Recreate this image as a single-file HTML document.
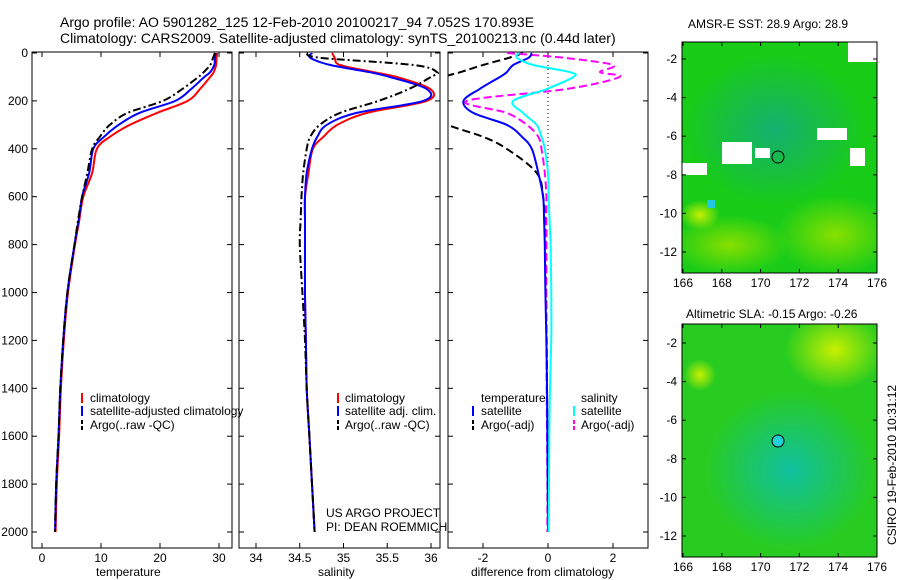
<!DOCTYPE html>
<html><head><meta charset="utf-8">
<style>
body{margin:0;background:#fff;}
svg{display:block;font-family:"Liberation Sans",sans-serif;}
text{font-size:12px;fill:#000;}
</style></head>
<body>
<svg id="fig" width="900" height="580" viewBox="0 0 900 580" xmlns="http://www.w3.org/2000/svg">
<defs>
<clipPath id="c1"><rect x="32" y="52" width="200" height="496"/></clipPath>
<clipPath id="c2"><rect x="239" y="52" width="201" height="496"/></clipPath>
<clipPath id="c3"><rect x="448" y="52" width="200" height="496"/></clipPath>
<clipPath id="m1"><rect x="682" y="42" width="195" height="231"/></clipPath>
<clipPath id="m2"><rect x="682" y="324" width="195" height="233"/></clipPath>
<radialGradient id="gTeal"><stop offset="0" stop-color="#14b070"/><stop offset="1" stop-color="#14b070" stop-opacity="0"/></radialGradient>
<radialGradient id="gYel"><stop offset="0" stop-color="#c8f000"/><stop offset="1" stop-color="#c8f000" stop-opacity="0"/></radialGradient>
<radialGradient id="gLime"><stop offset="0" stop-color="#88e000"/><stop offset="1" stop-color="#88e000" stop-opacity="0"/></radialGradient>
<radialGradient id="gCy"><stop offset="0" stop-color="#10c0a0"/><stop offset="1" stop-color="#10c0a0" stop-opacity="0"/></radialGradient>
</defs>
<text x="60" y="27" style="font-size:14px">Argo profile: AO 5901282_125 12-Feb-2010 20100217_94 7.052S 170.893E</text>
<text x="60" y="43" style="font-size:14px">Climatology: CARS2009. Satellite-adjusted climatology: synTS_20100213.nc (0.44d later)</text>
<g id="axes"></g>
<g id="maps">
 <g clip-path="url(#m1)">
  <rect x="682" y="42" width="195" height="231" fill="#18cc18"/>
  <ellipse cx="775" cy="130" rx="90" ry="75" fill="url(#gTeal)"/>
  <ellipse cx="730" cy="245" rx="60" ry="30" fill="url(#gLime)"/>
  <ellipse cx="835" cy="235" rx="60" ry="40" fill="url(#gLime)"/>
  <ellipse cx="700" cy="215" rx="20" ry="15" fill="url(#gYel)"/>
  <rect x="848" y="42" width="29" height="20" fill="#fff"/>
  <rect x="722" y="142" width="30" height="22" fill="#fff"/>
  <rect x="682" y="163" width="25" height="12" fill="#fff"/>
  <rect x="817" y="128" width="30" height="12" fill="#fff"/>
  <rect x="850" y="148" width="15" height="18" fill="#fff"/>
  <rect x="755" y="148" width="15" height="10" fill="#fff"/>
  <rect x="707" y="200" width="8" height="8" fill="#20c8e0"/>
 </g>
 <g clip-path="url(#m2)">
  <rect x="682" y="324" width="195" height="233" fill="#28cc20"/>
  <ellipse cx="790" cy="470" rx="85" ry="80" fill="url(#gCy)"/>
  <ellipse cx="835" cy="350" rx="50" ry="40" fill="url(#gYel)"/>
  <ellipse cx="700" cy="375" rx="16" ry="16" fill="url(#gYel)"/>
 </g>
 <rect x="682" y="42" width="195" height="231" fill="none" stroke="#000"/>
 <rect x="682" y="324" width="195" height="233" fill="none" stroke="#000"/>
 <circle cx="778" cy="157" r="6" fill="none" stroke="#000"/>
 <circle cx="778" cy="441" r="6" fill="#20d0d8" stroke="#000"/>
 <text x="688" y="28">AMSR-E SST: 28.9 Argo: 28.9</text>
 <text x="686" y="318">Altimetric SLA: -0.15 Argo: -0.26</text>
 <text transform="translate(896,545) rotate(-90)">CSIRO 19-Feb-2010 10:31:12</text>
</g>
<g id="mapticks"></g>
<g id="series"></g>
<g id="legends" font-size="12">
 <g>
  <line x1="82" y1="393" x2="82" y2="403" stroke="red" stroke-width="2"/><text x="90" y="402">climatology</text>
  <line x1="82" y1="406" x2="82" y2="416" stroke="blue" stroke-width="2"/><text x="90" y="415">satellite-adjusted climatology</text>
  <line x1="82" y1="420" x2="82" y2="430" stroke="#000" stroke-width="2" stroke-dasharray="4,2"/><text x="90" y="429">Argo(..raw -QC)</text>
 </g>
 <g>
  <line x1="338" y1="393" x2="338" y2="403" stroke="red" stroke-width="2"/><text x="345" y="402">climatology</text>
  <line x1="338" y1="406" x2="338" y2="416" stroke="blue" stroke-width="2"/><text x="345" y="415">satellite adj. clim.</text>
  <line x1="338" y1="420" x2="338" y2="430" stroke="#000" stroke-width="2" stroke-dasharray="4,2"/><text x="345" y="429">Argo(..raw -QC)</text>
 </g>
 <g>
  <text x="481" y="402">temperature</text><text x="581" y="402">salinity</text>
  <line x1="473" y1="406" x2="473" y2="416" stroke="blue" stroke-width="2"/><text x="481" y="415">satellite</text>
  <line x1="473" y1="420" x2="473" y2="430" stroke="#000" stroke-width="2" stroke-dasharray="4,2"/><text x="481" y="429">Argo(-adj)</text>
  <line x1="574" y1="406" x2="574" y2="416" stroke="cyan" stroke-width="2"/><text x="581" y="415">satellite</text>
  <line x1="574" y1="420" x2="574" y2="430" stroke="magenta" stroke-width="2" stroke-dasharray="4,2"/><text x="581" y="429">Argo(-adj)</text>
 </g>
 <text x="326" y="517">US ARGO PROJECT</text>
 <text x="326" y="531">PI: DEAN ROEMMICH</text>
</g>
</svg>
<script>
const depths=[0,20,50,80,100,150,200,250,300,350,400,500,600,700,800,1000,1200,1400,1600,1800,2000];
const tempClim=[29.7,29.6,29.5,29.1,28.5,26.8,24.7,19.5,14.9,11.5,9.3,8.5,7.0,6.3,5.6,4.4,3.7,3.2,2.9,2.5,2.3];
const tempSat=[29.4,29.3,29.2,28.5,27.5,25.3,22.6,16.5,13.0,10.5,8.7,8.0,6.8,6.2,5.5,4.3,3.6,3.1,2.8,2.4,2.2];
const tempArgo=[29.3,29.0,28.5,27.4,26.5,23.8,20.5,14.5,11.5,9.8,8.5,7.7,6.8,6.1,5.5,4.3,3.6,3.1,2.8,2.4,2.2];
const salClim=[34.87,34.9,34.96,35.35,35.61,35.99,35.95,35.27,34.93,34.77,34.65,34.6,34.56,34.56,34.56,34.56,34.57,34.58,34.61,34.64,34.67];
const salSat=[34.64,34.62,34.85,35.3,35.53,35.95,35.91,35.15,34.81,34.7,34.64,34.58,34.56,34.56,34.56,34.56,34.57,34.58,34.61,34.64,34.67];
const salArgo=[34.58,34.73,35.8,36.07,36.0,35.75,35.4,34.96,34.73,34.62,34.58,34.54,34.52,34.51,34.5,34.53,34.56,34.58,34.61,34.64,34.67];
const dTempSat=[-0.5,-0.6,-1.07,-1.27,-1.48,-2.1,-2.6,-2.3,-1.27,-0.8,-0.5,-0.3,-0.15,-0.12,-0.1,-0.08,-0.05,-0.03,-0.02,-0.01,0];
const dTempArgo=[-0.77,-1.2,-2.0,-2.7,-3.2,-4,-4,-3.8,-3.1,-2.0,-1.27,-0.35,-0.15,-0.1,-0.08,-0.06,-0.04,-0.03,-0.02,-0.01,0];
const dSalSat=[-0.9,-0.95,-0.45,0.68,0.78,-0.03,-1.07,-0.77,-0.35,-0.2,-0.1,0,0.02,0.05,0.08,0.1,0.1,0.06,0.04,0.03,0.02];
const dSalArgo=[-1.26,0.5,2.0,1.6,2.2,0.6,-2.5,-1.27,-0.65,-0.3,-0.2,-0.1,-0.05,-0.05,-0.05,-0.05,-0.05,-0.04,-0.03,-0.02,-0.02];
const depthTicks=[0,200,400,600,800,1000,1200,1400,1600,1800,2000];
const tempTicks=[0,10,20,30];
const salTicks=[34,34.5,35,35.5,36];
const diffTicks=[-2,0,2];
const lonTicks=[166,168,170,172,174,176];
const latTicks=[-2,-4,-6,-8,-10,-12];

const NS='http://www.w3.org/2000/svg';
const yD=d=>53+d*0.2395;
const xT=t=>42+t*5.9;
const xS=s=>256+(s-34)*87.5;
const xDf=v=>548+v*32.5;
const mx=lon=>683+(lon-166)*19.4;
const my1=lat=>59+(-2-lat)*19.3;
const my2=lat=>343+(-2-lat)*19.3;
function mk(tag,attrs,parent){const e=document.createElementNS(NS,tag);for(const k in attrs)e.setAttribute(k,attrs[k]);parent.appendChild(e);return e;}
const axes=document.getElementById('axes');
const panels=[{x0:32,w:200,xf:xT,ticks:tempTicks,label:'temperature',lx:96,name:'temperature'},
 {x0:239,w:201,xf:xS,ticks:salTicks,label:'salinity',lx:318,name:'salinity'},
 {x0:448,w:200,xf:xDf,ticks:diffTicks,label:'difference from climatology',lx:471,name:'difference'}];
panels.forEach((p,i)=>{
 const r=mk('rect',{x:p.x0,y:52,width:p.w,height:496,fill:'none',stroke:'#000'},axes);
 
 
 p.ticks.forEach(t=>{
  const x=p.xf(t);
  mk('line',{x1:x,y1:548,x2:x,y2:543,stroke:'#000'},axes);
  mk('line',{x1:x,y1:52,x2:x,y2:57,stroke:'#000'},axes);
  const tx=mk('text',{x:x,y:562,'text-anchor':'middle'},axes);tx.textContent=String(t);
  
  
 });
 depthTicks.forEach(d=>{
  const y=yD(d);
  mk('line',{x1:p.x0,y1:y,x2:p.x0+5,y2:y,stroke:'#000'},axes);
  mk('line',{x1:p.x0+p.w,y1:y,x2:p.x0+p.w-5,y2:y,stroke:'#000'},axes);
  if(i===0){const tx=mk('text',{x:28,y:y+4,'text-anchor':'end'},axes);tx.textContent=String(d);
   
   }
 });
 const lb=mk('text',{x:p.lx,y:576},axes);lb.textContent=p.label;
 
 
});
mk('line',{x1:548,y1:53,x2:548,y2:yD(500),stroke:'#000','stroke-dasharray':'1,3'},axes);
const mt=document.getElementById('mapticks');
[[42,273,my1],[324,557,my2]].forEach(([top,bot,myf])=>{
 lonTicks.forEach(l=>{const x=mx(l);
  mk('line',{x1:x,y1:bot,x2:x,y2:bot-4,stroke:'#000'},mt);
  mk('line',{x1:x,y1:top,x2:x,y2:top+4,stroke:'#000'},mt);
  const t=mk('text',{x:x,y:bot+14,'text-anchor':'middle'},mt);t.textContent=String(l);
  
  });
 latTicks.forEach(l=>{const y=myf(l);
  mk('line',{x1:682,y1:y,x2:686,y2:y,stroke:'#000'},mt);
  mk('line',{x1:877,y1:y,x2:873,y2:y,stroke:'#000'},mt);
  const t=mk('text',{x:677,y:y+4,'text-anchor':'end'},mt);t.textContent=String(l);
  
  });
});
const sg=document.getElementById('series');
function smoothPath(P){
 let d='M'+P[0][0].toFixed(1)+','+P[0][1].toFixed(1);
 for(let i=0;i<P.length-1;i++){
  const p0=P[Math.max(i-1,0)],p1=P[i],p2=P[i+1],p3=P[Math.min(i+2,P.length-1)];
  const c1=[p1[0]+(p2[0]-p0[0])/6,p1[1]+(p2[1]-p0[1])/6];
  const c2=[p2[0]-(p3[0]-p1[0])/6,p2[1]-(p3[1]-p1[1])/6];
  d+=' C'+c1.map(v=>v.toFixed(1)).join(',')+' '+c2.map(v=>v.toFixed(1)).join(',')+' '+p2[0].toFixed(1)+','+p2[1].toFixed(1);
 }
 return d;
}
function line(vals,xf,clip,color,dash,name){
 const P=vals.map((v,j)=>[xf(v),yD(depths[j])]);
 const a={d:smoothPath(P),fill:'none',stroke:color,'stroke-width':2,'clip-path':'url(#'+clip+')'};
 if(dash)a['stroke-dasharray']=dash;
 const e=mk('path',a,sg);
 
 
}
line(tempClim,xT,'c1','red',null,'temp-climatology-line');
line(tempSat,xT,'c1','blue',null,'temp-satellite-line');
line(tempArgo,xT,'c1','#000','8,3,2,3','temp-argo-line');
line(salClim,xS,'c2','red',null,'sal-climatology-line');
line(salSat,xS,'c2','blue',null,'sal-satellite-line');
line(salArgo,xS,'c2','#000','8,3,2,3','sal-argo-line');
line(dTempArgo,xDf,'c3','#000','8,4','diff-temp-argo-line');
line(dSalArgo,xDf,'c3','magenta','8,4','diff-sal-argo-line');
line(dTempSat,xDf,'c3','blue',null,'diff-temp-satellite-line');
line(dSalSat,xDf,'c3','cyan',null,'diff-sal-satellite-line');
</script>
</body></html>
